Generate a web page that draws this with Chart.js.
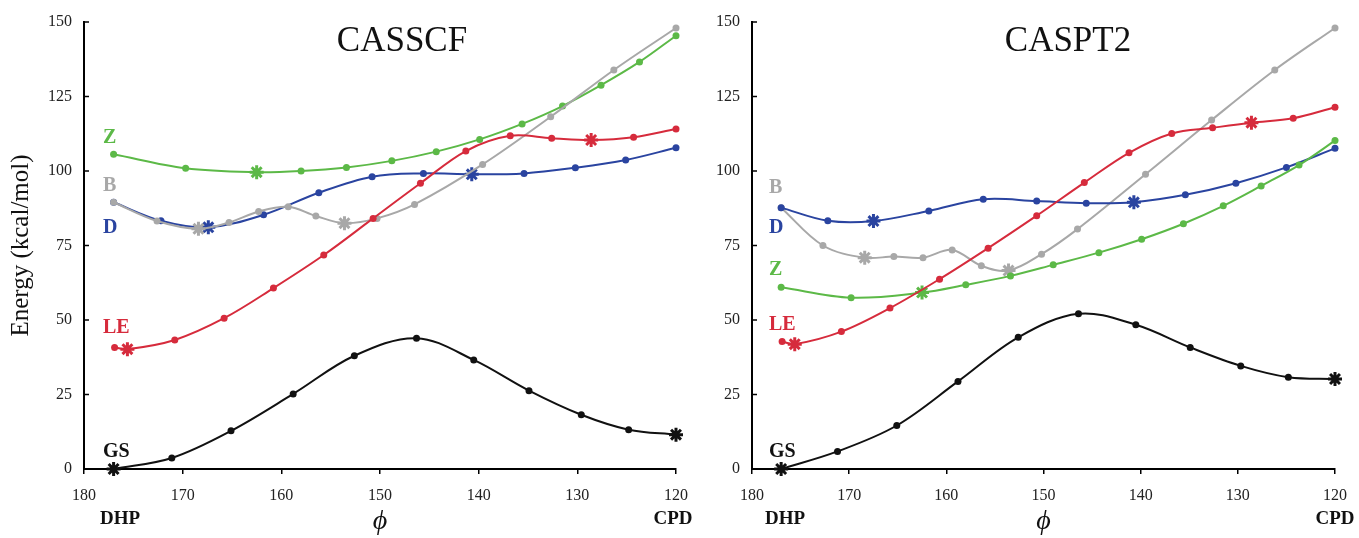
<!DOCTYPE html>
<html>
<head>
<meta charset="utf-8">
<script src="https://cdn.jsdelivr.net/npm/chart.js@4.4.0/dist/chart.umd.min.js"></script>
<style>
body{margin:0;background:#fff;width:1359px;height:538px;position:relative;overflow:hidden;font-family:"Liberation Serif","Times New Roman",serif;}
#leftBox{position:absolute;left:0;top:0;width:700px;height:538px;}
#rightBox{position:absolute;left:680px;top:0;width:679px;height:538px;}
.lbl{position:absolute;font-weight:bold;font-size:20px;line-height:20px;transform:translateY(-50%);}
.ttl{position:absolute;font-size:35px;line-height:35px;transform:translate(-50%,-50%);color:#111;}
.end{position:absolute;font-weight:bold;font-size:19px;line-height:19px;transform:translate(-50%,-50%);color:#111;}
</style>
</head>
<body>
<div id="leftBox"><canvas id="leftChart"></canvas></div>
<div id="rightBox"><canvas id="rightChart"></canvas></div>

<div class="ttl" style="left:402px;top:39px">CASSCF</div>
<div class="ttl" style="left:1068px;top:39px">CASPT2</div>

<div class="lbl" style="left:103px;top:136px;color:#5cb947">Z</div>
<div class="lbl" style="left:103px;top:184px;color:#a8a8a8">B</div>
<div class="lbl" style="left:103px;top:226px;color:#2a44a0">D</div>
<div class="lbl" style="left:103px;top:326px;color:#d62b3c">LE</div>
<div class="lbl" style="left:103px;top:450px;color:#111">GS</div>

<div class="lbl" style="left:769px;top:186px;color:#a8a8a8">B</div>
<div class="lbl" style="left:769px;top:226px;color:#2a44a0">D</div>
<div class="lbl" style="left:769px;top:268px;color:#5cb947">Z</div>
<div class="lbl" style="left:769px;top:323px;color:#d62b3c">LE</div>
<div class="lbl" style="left:769px;top:450px;color:#111">GS</div>

<div class="end" style="left:120px;top:517px">DHP</div>
<div class="end" style="left:673px;top:517px">CPD</div>
<div class="end" style="left:785px;top:517px">DHP</div>
<div class="end" style="left:1335px;top:517px">CPD</div>

<script>
// =========================
// DATA (phi in degrees, energy in kcal/mol)
// =========================
const xTicks = [180, 170, 160, 150, 140, 130, 120];
const yTicks = [0, 25, 50, 75, 100, 125, 150];

// CASSCF
const gsX_L = [177, 171.1, 165.1, 158.8, 152.6, 146.3, 140.5, 134.9, 129.6, 124.8, 120];
const gsY_L = [0, 3.7, 12.8, 25.2, 38.0, 43.9, 36.6, 26.3, 18.2, 13.2, 11.5];
const gsStar_L = [0, 10];
const leX_L = [176.9, 175.6, 170.8, 165.8, 160.8, 155.7, 150.7, 145.9, 141.3, 136.8, 132.6, 128.6, 124.3, 120];
const leY_L = [40.8, 40.2, 43.3, 50.6, 60.7, 71.8, 84.1, 95.9, 106.7, 111.8, 111.0, 110.4, 111.3, 114.1];
const leStar_L = [1, 11];
const zX_L = [177, 169.7, 162.5, 158.0, 153.4, 148.8, 144.3, 139.9, 135.6, 131.5, 127.6, 123.7, 120];
const zY_L = [105.6, 100.9, 99.6, 100.0, 101.2, 103.4, 106.5, 110.6, 115.8, 121.8, 128.8, 136.6, 145.4];
const zStar_L = [2];
const bX_L = [177, 172.6, 168.4, 165.3, 162.3, 159.3, 156.5, 153.6, 150.3, 146.5, 139.6, 132.7, 126.3, 120];
const bY_L = [89.5, 83.2, 80.6, 82.7, 86.4, 88.0, 84.9, 82.5, 84.1, 88.8, 102.2, 118.2, 133.9, 148.0];
const bStar_L = [2, 7];
const dX_L = [177, 172.2, 167.4, 161.8, 156.2, 150.8, 145.6, 140.7, 135.4, 130.2, 125.1, 120];
const dY_L = [89.5, 83.3, 81.1, 85.3, 92.7, 98.1, 99.2, 98.9, 99.2, 101.1, 103.7, 107.8];
const dStar_L = [2, 7];

// CASPT2
const gsX_R = [177, 171.2, 165.1, 158.8, 152.6, 146.4, 140.5, 134.9, 129.7, 124.8, 120];
const gsY_R = [0, 5.9, 14.6, 29.4, 44.2, 52.1, 48.4, 40.8, 34.6, 30.8, 30.2];
const gsStar_R = [0, 10];
const leX_R = [176.9, 175.6, 170.8, 165.8, 160.7, 155.7, 150.7, 145.8, 141.2, 136.8, 132.6, 128.6, 124.3, 120];
const leY_R = [42.8, 41.9, 46.1, 54.0, 63.7, 74.1, 85.0, 96.1, 106.1, 112.6, 114.5, 116.2, 117.7, 121.4];
const leStar_R = [1, 11];
const zX_R = [177, 169.8, 162.5, 158.0, 153.4, 149.0, 144.3, 139.9, 135.6, 131.5, 127.6, 123.7, 120];
const zY_R = [61.0, 57.5, 59.2, 61.8, 64.8, 68.5, 72.6, 77.1, 82.3, 88.3, 95.0, 102.0, 110.2];
const zStar_R = [2];
const bX_R = [177, 172.7, 168.4, 165.4, 162.4, 159.4, 156.4, 153.6, 150.2, 146.5, 139.5, 132.7, 126.2, 120];
const bY_R = [87.7, 75.0, 70.9, 71.3, 70.9, 73.5, 68.2, 66.6, 72.1, 80.5, 98.9, 117.1, 133.9, 148.0];
const bStar_R = [2, 7];
const dX_R = [177, 172.2, 167.5, 161.8, 156.2, 150.7, 145.6, 140.7, 135.4, 130.2, 125.0, 120];
const dY_R = [87.7, 83.3, 83.2, 86.6, 90.5, 89.9, 89.2, 89.5, 92.0, 95.9, 101.2, 107.6];
const dStar_R = [2, 7];

const COL = {gs:'#111111', le:'#d62b3c', z:'#5cb947', b:'#a8a8a8', d:'#2a44a0'};
const SERIF = '"Liberation Serif", "Times New Roman", serif';

function series(xs, ys, stars, color){
    return {
        data: xs.map((x,i)=>({x:x, y:ys[i]})),
        showLine: true,
        borderColor: color,
        backgroundColor: color,
        borderWidth: 2,
        tension: 0.35,
        clip: false,
        pointStyle: xs.map((x,i)=> stars.includes(i) ? 'star' : 'circle'),
        pointRadius: xs.map((x,i)=> stars.includes(i) ? 7 : 3.5),
        pointBorderWidth: xs.map((x,i)=> stars.includes(i) ? 3 : 0),
        pointBorderColor: color,
        pointBackgroundColor: color
    };
}

// y ticks point into the plot
const inwardTicks = {
    id: 'inwardTicks',
    afterDraw(chart){
        const y = chart.scales.y, ctx = chart.ctx, x0 = chart.chartArea.left;
        ctx.save();
        ctx.strokeStyle = '#000';
        ctx.lineWidth = 1.5;
        y.ticks.forEach(t=>{
            const py = y.getPixelForValue(t.value);
            ctx.beginPath(); ctx.moveTo(x0, py); ctx.lineTo(x0+5, py); ctx.stroke();
        });
        ctx.restore();
    }
};

function makeChart(id, datasets, yWidth, showYTitle, padRight){
    return new Chart(document.getElementById(id), {
        type: 'scatter',
        data: {datasets: datasets},
        plugins: [inwardTicks],
        options: {
            responsive: true,
            maintainAspectRatio: false,
            animation: false,
            layout: {padding: {top: 22, right: padRight, left: 0, bottom: 0}},
            plugins: {legend: {display:false}, tooltip: {enabled:false}},
            scales: {
                x: {
                    type: 'linear', reverse: true, min: 120, max: 180,
                    afterBuildTicks: s => { s.ticks = xTicks.map(v=>({value:v})); },
                    ticks: {font:{family:SERIF, size:16}, color:'#222', padding:12},
                    grid: {drawOnChartArea:false, drawTicks:true, tickLength:5, color:'#000', lineWidth:1.5},
                    border: {display:true, color:'#000', width:2},
                    title: {display:true, text:'\u03d5', font:{family:SERIF, size:28, style:'italic'}, color:'#111', padding:{top:0, bottom:0}},
                    afterFit: s => { s.height = 69; }
                },
                y: {
                    type: 'linear', min: 0, max: 150,
                    afterBuildTicks: s => { s.ticks = yTicks.map(v=>({value:v})); },
                    ticks: {font:{family:SERIF, size:16}, color:'#222', padding:12},
                    grid: {drawOnChartArea:false, drawTicks:false},
                    border: {display:true, color:'#000', width:2},
                    title: {display:showYTitle, text:'Energy (kcal/mol)', font:{family:SERIF, size:25}, color:'#111', padding:{top:6, bottom:0}},
                    afterFit: s => { s.width = yWidth; }
                }
            }
        }
    });
}

makeChart('leftChart', [
    series(gsX_L, gsY_L, gsStar_L, COL.gs),
    series(leX_L, leY_L, leStar_L, COL.le),
    series(bX_L, bY_L, bStar_L, COL.b),
    series(dX_L, dY_L, dStar_L, COL.d),
    series(zX_L, zY_L, zStar_L, COL.z)
], 84, true, 23);

makeChart('rightChart', [
    series(gsX_R, gsY_R, gsStar_R, COL.gs),
    series(leX_R, leY_R, leStar_R, COL.le),
    series(zX_R, zY_R, zStar_R, COL.z),
    series(dX_R, dY_R, dStar_R, COL.d),
    series(bX_R, bY_R, bStar_R, COL.b)
], 72, false, 16);
</script>
</body>
</html>
